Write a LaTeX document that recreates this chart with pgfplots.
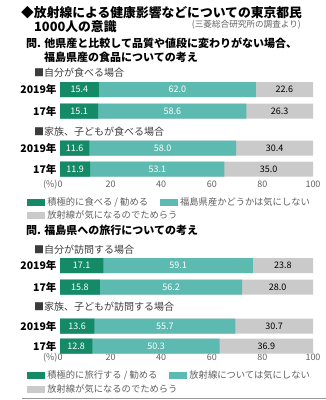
\documentclass[border=0pt]{standalone}
\usepackage{pgfplots}
\pgfplotsset{compat=1.18}
\usepackage{pgfplotstable}
\usepackage{fontspec}
\setmainfont{Noto Sans CJK JP}
\definecolor{dkg}{RGB}{20,138,102}
\definecolor{tealb}{RGB}{92,186,176}
\definecolor{lgray}{RGB}{202,202,202}
\definecolor{txtg}{RGB}{95,95,95}
\definecolor{subg}{RGB}{60,60,60}

\pgfplotstableread{
y a b c
-89.5 15.4 62.0 22.6
-111 15.1 58.6 26.3
-148 11.6 58.0 30.4
-169 11.9 53.1 35.0
}\foodtab
\pgfplotstableread{
y a b c
-265.5 17.1 59.1 23.8
-287 15.8 56.2 28.0
-326 13.6 55.7 30.7
-346 12.8 50.3 36.9
}\triptab

\pgfplotsset{mybars/.style={
  scale only axis, width=253pt, xmin=0, xmax=100, clip=false,
  axis line style={draw=none}, tick style={draw=none},
  xtick={0,20,40,60,80,100}, xticklabels={\llap{(\%)}0,20,40,60,80,100},
  xticklabel style={font=\fontsize{9}{10}\selectfont, text=txtg},
  ytick=data,
  yticklabel style={font=\bfseries\fontsize{10.5}{12}\selectfont, anchor=east},
  /pgf/number format/assume math mode=true,
  legend image code/.code={\fill[##1, draw=none] (0pt,-3.5pt) rectangle (18pt,3.5pt);},
  legend style={draw=none, fill=none, font=\fontsize{9.3}{11}\selectfont, text=txtg,
    legend columns=2, anchor=north west, inner sep=0pt,
    /tikz/every even column/.append style={column sep=10pt}},
  legend cell align=left,
}}

\begin{document}
\begin{tikzpicture}[x=1pt,y=-1pt]
\useasboundingbox (0,0) rectangle (326,400);

\node[anchor=west, font=\bfseries\fontsize{12.8}{14}\selectfont, inner sep=0pt] at (21,12.7) {◆放射線による健康影響などについての東京都民};
\node[anchor=west, font=\bfseries\fontsize{12.8}{14}\selectfont, inner sep=0pt] at (34,26.5) {1000人の意識};
\node[anchor=east, font=\fontsize{8.6}{10}\selectfont, text=txtg, inner sep=0pt] at (301,25) {(三菱総合研究所の調査より)};
\node[anchor=west, font=\bfseries\fontsize{11}{13}\selectfont, inner sep=0pt] at (26,43) {問. 他県産と比較して品質や値段に変わりがない場合、};
\node[anchor=west, font=\bfseries\fontsize{11}{13}\selectfont, inner sep=0pt] at (44,57) {福島県産の食品についての考え};
\node[anchor=west, font=\fontsize{10}{12}\selectfont, text=subg, inner sep=0pt] at (34,73) {■自分が食べる場合};
\node[anchor=west, font=\fontsize{10}{12}\selectfont, text=subg, inner sep=0pt] at (34,132) {■家族、子どもが食べる場合};
\node[anchor=west, font=\bfseries\fontsize{11}{13}\selectfont, inner sep=0pt] at (26,230) {問. 福島県への旅行についての考え};
\node[anchor=west, font=\fontsize{10}{12}\selectfont, text=subg, inner sep=0pt] at (34,250) {■自分が訪問する場合};
\node[anchor=west, font=\fontsize{10}{12}\selectfont, text=subg, inner sep=0pt] at (34,307) {■家族、子どもが訪問する場合};
\draw[gray!80, line width=1pt] (22,398.5) -- (326,398.5);

\begin{axis}[mybars, height=97pt, ymin=-177, ymax=-80, at={(60pt,-80pt)}, anchor=north west,
  yticklabels={2019年,17年,2019年,17年}, legend style={at={(-0.13,-0.19)}}]
\addplot[xbar, bar width=15, bar shift=0pt, fill=lgray, draw=none, forget plot] table[x expr=\thisrow{a}+\thisrow{b}+\thisrow{c}, y=y] \foodtab;
\addplot[xbar, bar width=15, bar shift=0pt, fill=tealb, draw=none, forget plot] table[x expr=\thisrow{a}+\thisrow{b}, y=y] \foodtab;
\addplot[xbar, bar width=15, bar shift=0pt, fill=dkg, draw=none, forget plot] table[x=a, y=y] \foodtab;
\addplot[draw=none, forget plot, nodes near coords, point meta=explicit symbolic,
  every node near coord/.append style={anchor=center, text=white, font=\fontsize{9}{10}\selectfont}] table[x expr=\thisrow{a}/2, y=y, meta=a] \foodtab;
\addplot[draw=none, forget plot, nodes near coords, point meta=explicit symbolic,
  every node near coord/.append style={anchor=center, text=white, font=\fontsize{9}{10}\selectfont}] table[x expr=\thisrow{a}+\thisrow{b}/2, y=y, meta=b] \foodtab;
\addplot[draw=none, forget plot, nodes near coords, point meta=explicit symbolic,
  every node near coord/.append style={anchor=center, text=black, font=\fontsize{9}{10}\selectfont}] table[x expr=\thisrow{a}+\thisrow{b}+\thisrow{c}/2, y=y, meta=c] \foodtab;
\addlegendimage{fill=dkg}
\addlegendimage{fill=tealb}
\addlegendimage{fill=lgray}
\legend{積極的に食べる / 勧める, 福島県産かどうかは気にしない, \makebox[0pt][l]{放射線が気になるのでためらう}}
\end{axis}

\begin{axis}[mybars, height=94pt, ymin=-350, ymax=-256, at={(60pt,-256pt)}, anchor=north west,
  yticklabels={2019年,17年,2019年,17年}, legend style={at={(-0.13,-0.20)}}]
\addplot[xbar, bar width=15, bar shift=0pt, fill=lgray, draw=none, forget plot] table[x expr=\thisrow{a}+\thisrow{b}+\thisrow{c}, y=y] \triptab;
\addplot[xbar, bar width=15, bar shift=0pt, fill=tealb, draw=none, forget plot] table[x expr=\thisrow{a}+\thisrow{b}, y=y] \triptab;
\addplot[xbar, bar width=15, bar shift=0pt, fill=dkg, draw=none, forget plot] table[x=a, y=y] \triptab;
\addplot[draw=none, forget plot, nodes near coords, point meta=explicit symbolic,
  every node near coord/.append style={anchor=center, text=white, font=\fontsize{9}{10}\selectfont}] table[x expr=\thisrow{a}/2, y=y, meta=a] \triptab;
\addplot[draw=none, forget plot, nodes near coords, point meta=explicit symbolic,
  every node near coord/.append style={anchor=center, text=white, font=\fontsize{9}{10}\selectfont}] table[x expr=\thisrow{a}+\thisrow{b}/2, y=y, meta=b] \triptab;
\addplot[draw=none, forget plot, nodes near coords, point meta=explicit symbolic,
  every node near coord/.append style={anchor=center, text=black, font=\fontsize{9}{10}\selectfont}] table[x expr=\thisrow{a}+\thisrow{b}+\thisrow{c}/2, y=y, meta=c] \triptab;
\addlegendimage{fill=dkg}
\addlegendimage{fill=tealb}
\addlegendimage{fill=lgray}
\legend{積極的に旅行する / 勧める, 放射線については気にしない, \makebox[0pt][l]{放射線が気になるのでためらう}}
\end{axis}
\end{tikzpicture}
\end{document}
